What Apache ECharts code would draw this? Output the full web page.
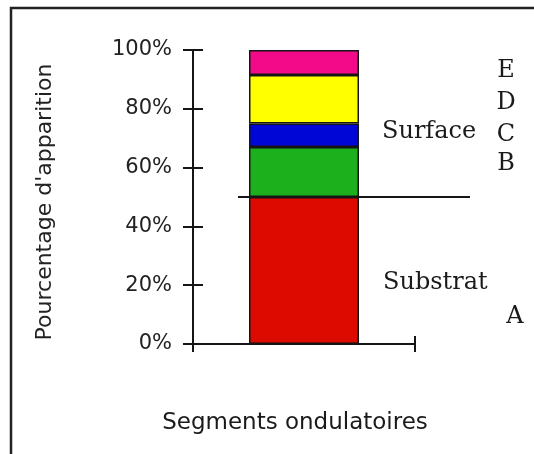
<!DOCTYPE html>
<html>
<head>
<meta charset="utf-8">
<script src="https://cdn.jsdelivr.net/npm/echarts@6/dist/echarts.min.js"></script>
<style>html,body{margin:0;padding:0;background:#fff;}#c{width:534px;height:454px;}</style>
</head>
<body>
<div id="c"></div>
<script>
const categories = ['Segments ondulatoires'];
const seriesNames = ['A', 'B', 'C', 'D', 'E'];
const valuesA = [50];
const valuesB = [17];
const valuesC = [8];
const valuesD = [16.5];
const valuesE = [8.5];
const yTicks = [0, 20, 40, 60, 80, 100];
const colors = ['#dd0a00', '#1cb01c', '#0006d6', '#ffff00', '#f20a88'];
const seriesData = [valuesA, valuesB, valuesC, valuesD, valuesE];

const ink = '#151515';
const sans = 'DejaVu Sans';
const serif = 'DejaVu Serif';

const chart = echarts.init(document.getElementById('c'));
chart.setOption({
  animation: false,
  grid: { left: 193, top: 50, width: 222, height: 294 },
  xAxis: [
    { type: 'category', data: categories, position: 'bottom', boundaryGap: true,
      axisLine: { lineStyle: { color: ink, width: 2 } },
      axisTick: { show: true, interval: 0, length: 8, lineStyle: { color: ink, width: 2 } },
      axisLabel: { show: false } },
    { type: 'category', data: categories, position: 'bottom', boundaryGap: true, offset: -8,
      axisLine: { show: false },
      axisTick: { show: true, interval: 0, length: 8, lineStyle: { color: ink, width: 2 } },
      axisLabel: { show: false } }
  ],
  yAxis: [
    { type: 'value', min: yTicks[0], max: yTicks[yTicks.length - 1], interval: 20, position: 'left',
      axisLine: { show: true, lineStyle: { color: ink, width: 2 } },
      axisTick: { show: true, length: 10, lineStyle: { color: ink, width: 2 } },
      axisLabel: { formatter: '{value}%', margin: 21, fontFamily: sans, fontSize: 21, color: '#222' },
      splitLine: { show: false } },
    { type: 'value', min: yTicks[0], max: yTicks[yTicks.length - 1], interval: 20, position: 'left', offset: -10,
      axisLine: { show: false },
      axisTick: { show: true, length: 10, lineStyle: { color: ink, width: 2 } },
      axisLabel: { show: false },
      splitLine: { show: false } }
  ],
  series: seriesNames.map((n, i) => ({
    type: 'bar', name: n, stack: 'total', data: seriesData[i], barWidth: 110,
    xAxisIndex: 0, yAxisIndex: 0,
    itemStyle: { color: colors[i], borderColor: ink, borderWidth: 1.5 }
  }))
});

const y50 = chart.convertToPixel({ yAxisIndex: 0 }, valuesA[0]);
const txt = (s, x, y, font, size, align) => ({
  type: 'text', x: x, y: y,
  style: { text: s, font: size + 'px "' + font + '"', fill: '#1a1a1a', align: align || 'center', verticalAlign: 'middle' }
});
chart.setOption({
  graphic: [
    { type: 'rect', shape: { x: 11, y: 8, width: 700, height: 700 }, style: { fill: 'none', stroke: '#222', lineWidth: 2.5 }, z: 100 },
    { type: 'line', shape: { x1: 238, y1: y50, x2: 470, y2: y50 }, style: { stroke: ink, lineWidth: 2 }, z: 100 },
    { type: 'text', x: 45, y: 202, rotation: Math.PI / 2,
      style: { text: "Pourcentage d'apparition", font: '22px "' + sans + '"', fill: '#222', align: 'center', verticalAlign: 'middle' } },
    txt('Segments ondulatoires', 295, 423, sans, 23),
    txt('Surface', 382, 132, serif, 24, 'left'),
    txt('Substrat', 383, 283, serif, 24, 'left'),
    txt('E', 506, 71, serif, 24),
    txt('D', 506, 103, serif, 24),
    txt('C', 506, 135, serif, 24),
    txt('B', 506, 164, serif, 24),
    txt('A', 515, 317, serif, 24)
  ]
});
</script>
</body>
</html>
